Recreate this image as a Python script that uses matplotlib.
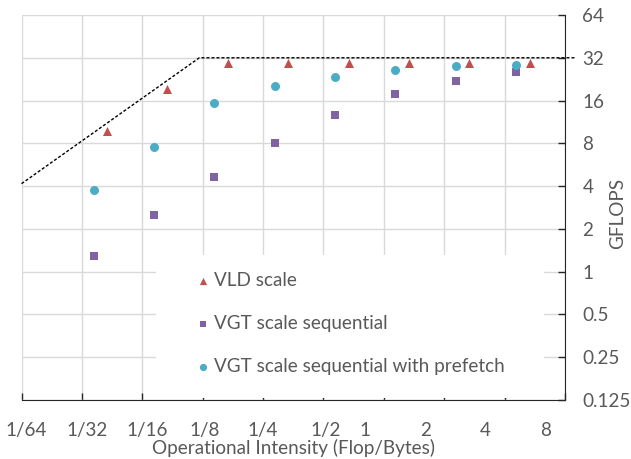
import matplotlib
matplotlib.use("Agg")
import matplotlib.pyplot as plt
import matplotlib.patches as mpatches
from matplotlib.transforms import ScaledTranslation

# data
vld_x = [1/24, 1/12, 1/6, 1/3, 2/3, 4/3, 8/3, 16/3]
vld_y = [9.7, 19.3, 29.6, 29.6, 29.6, 29.6, 29.6, 29.6]

vgt_x = [1/28, 1/14, 1/7, 2/7, 4/7, 8/7, 16/7, 32/7]
seq_y = [1.28, 2.52, 4.67, 8.05, 12.7, 17.8, 22.1, 25.4]
pre_y = [3.76, 7.5, 15.3, 20.2, 23.4, 26.3, 27.9, 28.3]

roof_x = [1/64, 0.1203, 9.1]
roof_y = [4.16, 32, 32]

x_ticks = [1/64, 1/32, 1/16, 1/8, 1/4, 1/2, 1, 2, 4, 8]
x_labels = ["1/64", "1/32", "1/16", "1/8", "1/4", "1/2", "1", "2", "4", "8"]
y_ticks = [0.125, 0.25, 0.5, 1, 2, 4, 8, 16, 32, 64]
y_labels = ["0.125", "0.25", "0.5", "1", "2", "4", "8", "16", "32", "64"]

txt = "#595959"
fs = 13.6
plt.rcParams['font.family'] = ['Lato', 'DejaVu Sans']

fig = plt.figure(figsize=(6.31, 4.59), dpi=100)
W, H = 631, 459
aw, ah = 565 - 21.5, 400 - 15
ax = fig.add_axes([21.5/W, 1 - 400/H, aw/W, ah/H])

ax.set_xscale("log", base=2)
ax.set_yscale("log", base=2)
ax.set_xlim(1/64, 8)
ax.set_ylim(0.125, 64)

ax.plot(roof_x, roof_y, color="black", lw=1, ls=(0, (2.2, 1.4)), clip_on=False, zorder=3)

ax.scatter(vld_x, vld_y, marker="^", s=42, color="#c0504d", zorder=4, label="VLD scale", linewidths=0)
ax.scatter(vgt_x, seq_y, marker="s", s=36, color="#8064a2", zorder=4, label="VGT scale sequential", linewidths=0)
ax.scatter(vgt_x, pre_y, marker="o", s=42, color="#4bacc6", zorder=4,
           label="VGT scale sequential with prefetch", linewidths=0)

# white box behind legend hides the grid
ax.add_patch(mpatches.Rectangle(((156-21.5)/aw, 0.005), (544-156)/aw, (400-257)/ah,
                                transform=ax.transAxes, facecolor="white", edgecolor="none", zorder=1))

ax.set_axisbelow(True)
ax.grid(True, color="#d9d9d9", lw=1)

for s in ["left", "top"]:
    ax.spines[s].set_visible(False)
ax.spines["bottom"].set_color("#262626")
ax.spines["right"].set_color("#262626")

ax.yaxis.tick_right()
ax.set_xticks(x_ticks)
ax.set_xticklabels(x_labels)
ax.set_yticks(y_ticks)
ax.set_yticklabels(y_labels, ha="left")
ax.minorticks_off()
ax.tick_params(axis="x", direction="in", length=5, width=1, color="#262626", pad=16, labelsize=fs, labelcolor=txt)
ax.tick_params(axis="y", direction="in", length=5, width=1, color="#262626", pad=12.5, labelsize=fs, labelcolor=txt)

# the x labels are shifted a little like in the original
shifts = [5, 5, 5, 2, 0, 2, -19, -19, -19, -19]
for lab, dx in zip(ax.get_xticklabels(), shifts):
    lab.set_transform(lab.get_transform() + ScaledTranslation(dx/100, 0, fig.dpi_scale_trans))

ax.set_xlabel("Operational Intensity (Flop/Bytes)", fontsize=fs, color=txt)
ax.xaxis.set_label_coords(0.5, -(448 - 400)/ah)
ax.xaxis.label.set_va("center")
ax.set_ylabel("GFLOPS", fontsize=fs, color=txt)
ax.yaxis.set_label_coords((618 - 21.5)/aw, 1 - (213 - 15)/ah)
ax.yaxis.label.set_va("center")

ax.legend(loc="upper left", bbox_to_anchor=((197.5-21.5)/aw, 1 - (272-15)/ah),
          frameon=False, fontsize=fs, labelcolor=txt, labelspacing=1.38, borderpad=0,
          handlelength=0.6, handletextpad=0.3, borderaxespad=0, scatterpoints=1, markerscale=0.8)

fig.savefig("out.png", dpi=100)
